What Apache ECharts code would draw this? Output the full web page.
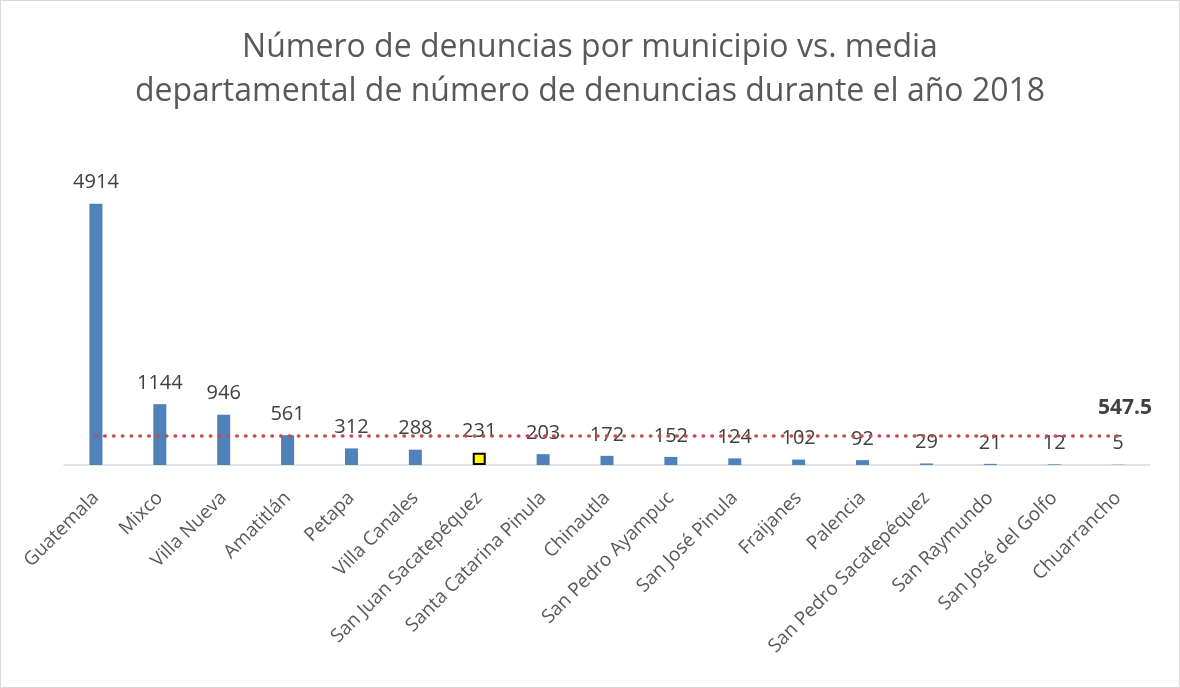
<!DOCTYPE html>
<html>
<head>
<meta charset="utf-8">
<script src="https://cdn.jsdelivr.net/npm/echarts@6/dist/echarts.min.js"></script>
<style>
  html, body { margin: 0; padding: 0; background: #fff; }
  #chart { width: 1178px; height: 686px; border: 1px solid #d9d9d9; }
</style>
</head>
<body>
<div id="chart"></div>
<script>
// municipios (eje x)
const municipios = [
  'Guatemala', 'Mixco', 'Villa Nueva', 'Amatitlán', 'Petapa', 'Villa Canales',
  'San Juan Sacatepéquez', 'Santa Catarina Pinula', 'Chinautla', 'San Pedro Ayampuc',
  'San José Pinula', 'Fraijanes', 'Palencia', 'San Pedro Sacatepéquez',
  'San Raymundo', 'San José del Golfo', 'Chuarrancho'
];
// número de denuncias 2018
const denuncias = [4914, 1144, 946, 561, 312, 288, 231, 203, 172, 152, 124, 102, 92, 29, 21, 12, 5];
// media departamental
const media = 547.5;
const destacado = 'San Juan Sacatepéquez';

const chart = echarts.init(document.getElementById('chart'));
const fontFam = "'Open Sans', 'Noto Sans', sans-serif";

chart.setOption({
  animation: false,
  textStyle: { fontFamily: fontFam },
  title: {
    text: 'Número de denuncias por municipio vs. media\ndepartamental de número de denuncias durante el año 2018',
    left: 'center',
    top: 20,
    textStyle: {
      fontFamily: fontFam,
      fontSize: 32,
      fontWeight: 'normal',
      color: '#595959',
      lineHeight: 44
    }
  },
  grid: { left: 63, right: 29, top: 145, bottom: 222 },
  xAxis: {
    type: 'category',
    data: municipios,
    axisLine: { lineStyle: { color: '#d9d9d9', width: 1.5 } },
    axisTick: { show: false },
    axisLabel: {
      rotate: 45,
      interval: 0,
      margin: 30,
      fontSize: 19,
      color: '#595959',
      fontFamily: fontFam
    }
  },
  yAxis: {
    type: 'value',
    min: 0,
    max: 6000,
    show: false
  },
  series: [
    {
      type: 'bar',
      barWidth: 13,
      data: denuncias.map((v, i) => municipios[i] === destacado
        ? { value: v, itemStyle: { color: '#ffff00', borderColor: '#000', borderWidth: 2 } }
        : v),
      itemStyle: { color: '#4f81bd' },
      label: {
        show: true,
        position: 'top',
        distance: 11,
        fontSize: 20,
        color: '#404040',
        fontFamily: fontFam
      }
    },
    {
      type: 'line',
      data: municipios.map(() => media),
      symbol: 'none',
      lineStyle: { color: '#c0504d', width: 3.5, type: [0.5, 8.3], cap: 'round' },
      z: 5,
      endLabel: {
        show: true,
        formatter: '547.5',
        offset: [-28, -28],
        fontSize: 21,
        fontWeight: 'bold',
        color: '#404040',
        fontFamily: fontFam
      }
    }
  ]
});
</script>
</body>
</html>
